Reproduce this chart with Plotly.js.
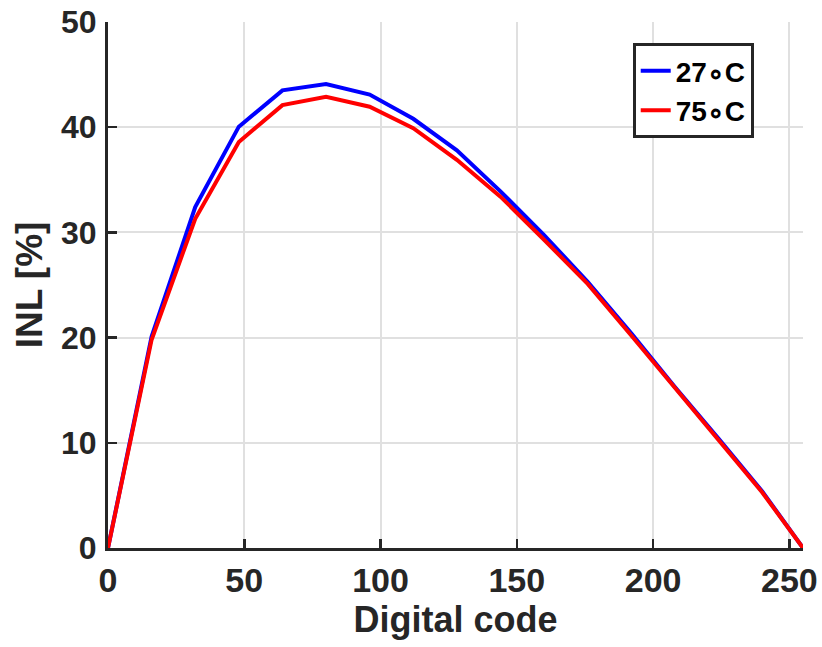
<!DOCTYPE html>
<html>
<head>
<meta charset="utf-8">
<script src="https://cdn.plot.ly/plotly-3.0.1.min.js"></script>
<style>html,body{margin:0;padding:0;background:#fff;}#chart{width:822px;height:647px;}</style>
</head>
<body>
<div id="chart"></div>
<script>
const codes = [0, 16, 32, 48, 64, 80, 96, 112, 128, 144, 160, 176, 192, 208, 224, 240, 255];
const inl27 = [0, 20.1, 32.4, 40.05, 43.5, 44.1, 43.1, 40.8, 37.8, 33.9, 29.75, 25.3, 20.4, 15.3, 10.4, 5.4, 0];
const inl75 = [0, 19.8, 31.3, 38.6, 42.1, 42.9, 41.95, 39.9, 36.9, 33.4, 29.3, 25.1, 20.2, 15.2, 10.3, 5.3, 0];
const names = ["27\u2218C", "75\u2218C"];
const xTicks = [0, 50, 100, 150, 200, 250];
const yTicks = [0, 10, 20, 30, 40, 50];

const font = "'Liberation Sans', Arial, Helvetica, sans-serif";
const traces = [
  {x: codes, y: inl27, name: names[0], mode: "lines", line: {color: "#0000ff", width: 4}},
  {x: codes, y: inl75, name: names[1], mode: "lines", line: {color: "#ff0000", width: 4}}
];
const axisCommon = {
  showline: true, linecolor: "#262626", linewidth: 3,
  ticks: "inside", ticklen: 9, tickwidth: 2.5, tickcolor: "#262626",
  showgrid: true, gridcolor: "#e0e0e0", gridwidth: 2,
  zeroline: false, mirror: false
};
const layout = {
  width: 822, height: 647,
  margin: {l: 108, r: 19, t: 22, b: 99},
  paper_bgcolor: "#ffffff", plot_bgcolor: "#ffffff",
  showlegend: true,
  legend: {
    x: 0.755, y: 0.96, xanchor: "left", yanchor: "top",
    bgcolor: "#ffffff", bordercolor: "#262626", borderwidth: 3,
    font: {family: font, size: 28, color: "#000000", weight: "bold"},
    tracegroupgap: 0
  },
  xaxis: Object.assign({}, axisCommon, {
    range: [0, 255], tickvals: xTicks, ticktext: xTicks.map(String),
    tickfont: {family: font, size: 34, color: "#262626", weight: "bold"},
    title: {text: "<b>Digital code</b>", font: {family: font, size: 36, color: "#262626"}, standoff: 6}
  }),
  yaxis: Object.assign({}, axisCommon, {
    range: [0, 50], tickvals: yTicks, ticktext: yTicks.map(String),
    tickfont: {family: font, size: 32, color: "#262626", weight: "bold"},
    ticklabelstandoff: 2,
    title: {text: "<b>INL [%]</b>", font: {family: font, size: 37, color: "#262626"}, standoff: 8}
  })
};
Plotly.newPlot("chart", traces, layout, {displayModeBar: false, staticPlot: true});
</script>
</body>
</html>
